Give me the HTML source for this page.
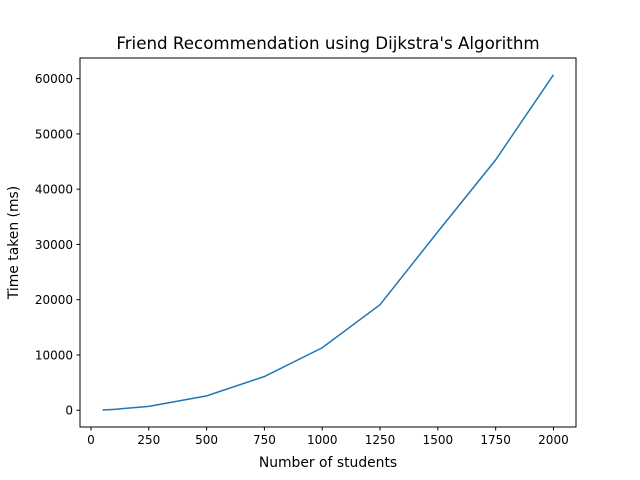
<!DOCTYPE html>
<html><head><meta charset="utf-8"><style>
body{margin:0;background:#fff;}
svg{display:block;font-family:"DejaVu Sans","Liberation Sans",sans-serif;}
</style></head><body>
<svg id="chart" width="640" height="480">
<rect width="640" height="480" fill="#fff"/>
<text x="328" y="49" text-anchor="middle" font-size="16.7">Friend Recommendation using Dijkstra's Algorithm</text>
<g id="plot"></g>
<rect x="80" y="58" width="496" height="369" fill="none" stroke="#000" stroke-width="1"/>
<text x="328" y="467" text-anchor="middle" font-size="13.9">Number of students</text>
<text transform="translate(18,242.5) rotate(-90)" text-anchor="middle" font-size="13.9">Time taken (ms)</text>
</svg>
<script>
const students=[50,100,250,500,750,1000,1250,1500,1750,2000];
const times=[50,150,700,2600,6100,11300,19100,32300,45300,60700];
const xTicks=[0,250,500,750,1000,1250,1500,1750,2000];
const yTicks=[0,10000,20000,30000,40000,50000,60000];
const L=80,R=576,T=58,B=427;
const xmin=-47.5,xmax=2097.5,ymin=-3035,ymax=63735;
const sx=v=>L+(v-xmin)/(xmax-xmin)*(R-L);
const sy=v=>B-(v-ymin)/(ymax-ymin)*(B-T);
const NS="http://www.w3.org/2000/svg";
const g=document.getElementById('plot');
function mk(t,a){const e=document.createElementNS(NS,t);for(const k in a)e.setAttribute(k,a[k]);g.appendChild(e);return e;}
xTicks.forEach(v=>{
 const l=mk('line',{x1:sx(v),x2:sx(v),y1:B,y2:B+3.5,stroke:'#000'});
 
 
 const t=mk('text',{x:sx(v),y:B+17,'text-anchor':'middle','font-size':'12'});
 t.textContent=v;
 
 
});
yTicks.forEach(v=>{
 const l=mk('line',{x1:L-3.5,x2:L,y1:sy(v),y2:sy(v),stroke:'#000'});
 
 
 const t=mk('text',{x:L-7,y:sy(v)+4.5,'text-anchor':'end','font-size':'12'});
 t.textContent=v;
 
 
});
const p=mk('polyline',{points:students.map((s,i)=>sx(s)+','+sy(times[i])).join(' '),fill:'none',stroke:'#1f77b4','stroke-width':'1.5'});


</script>
</body></html>
